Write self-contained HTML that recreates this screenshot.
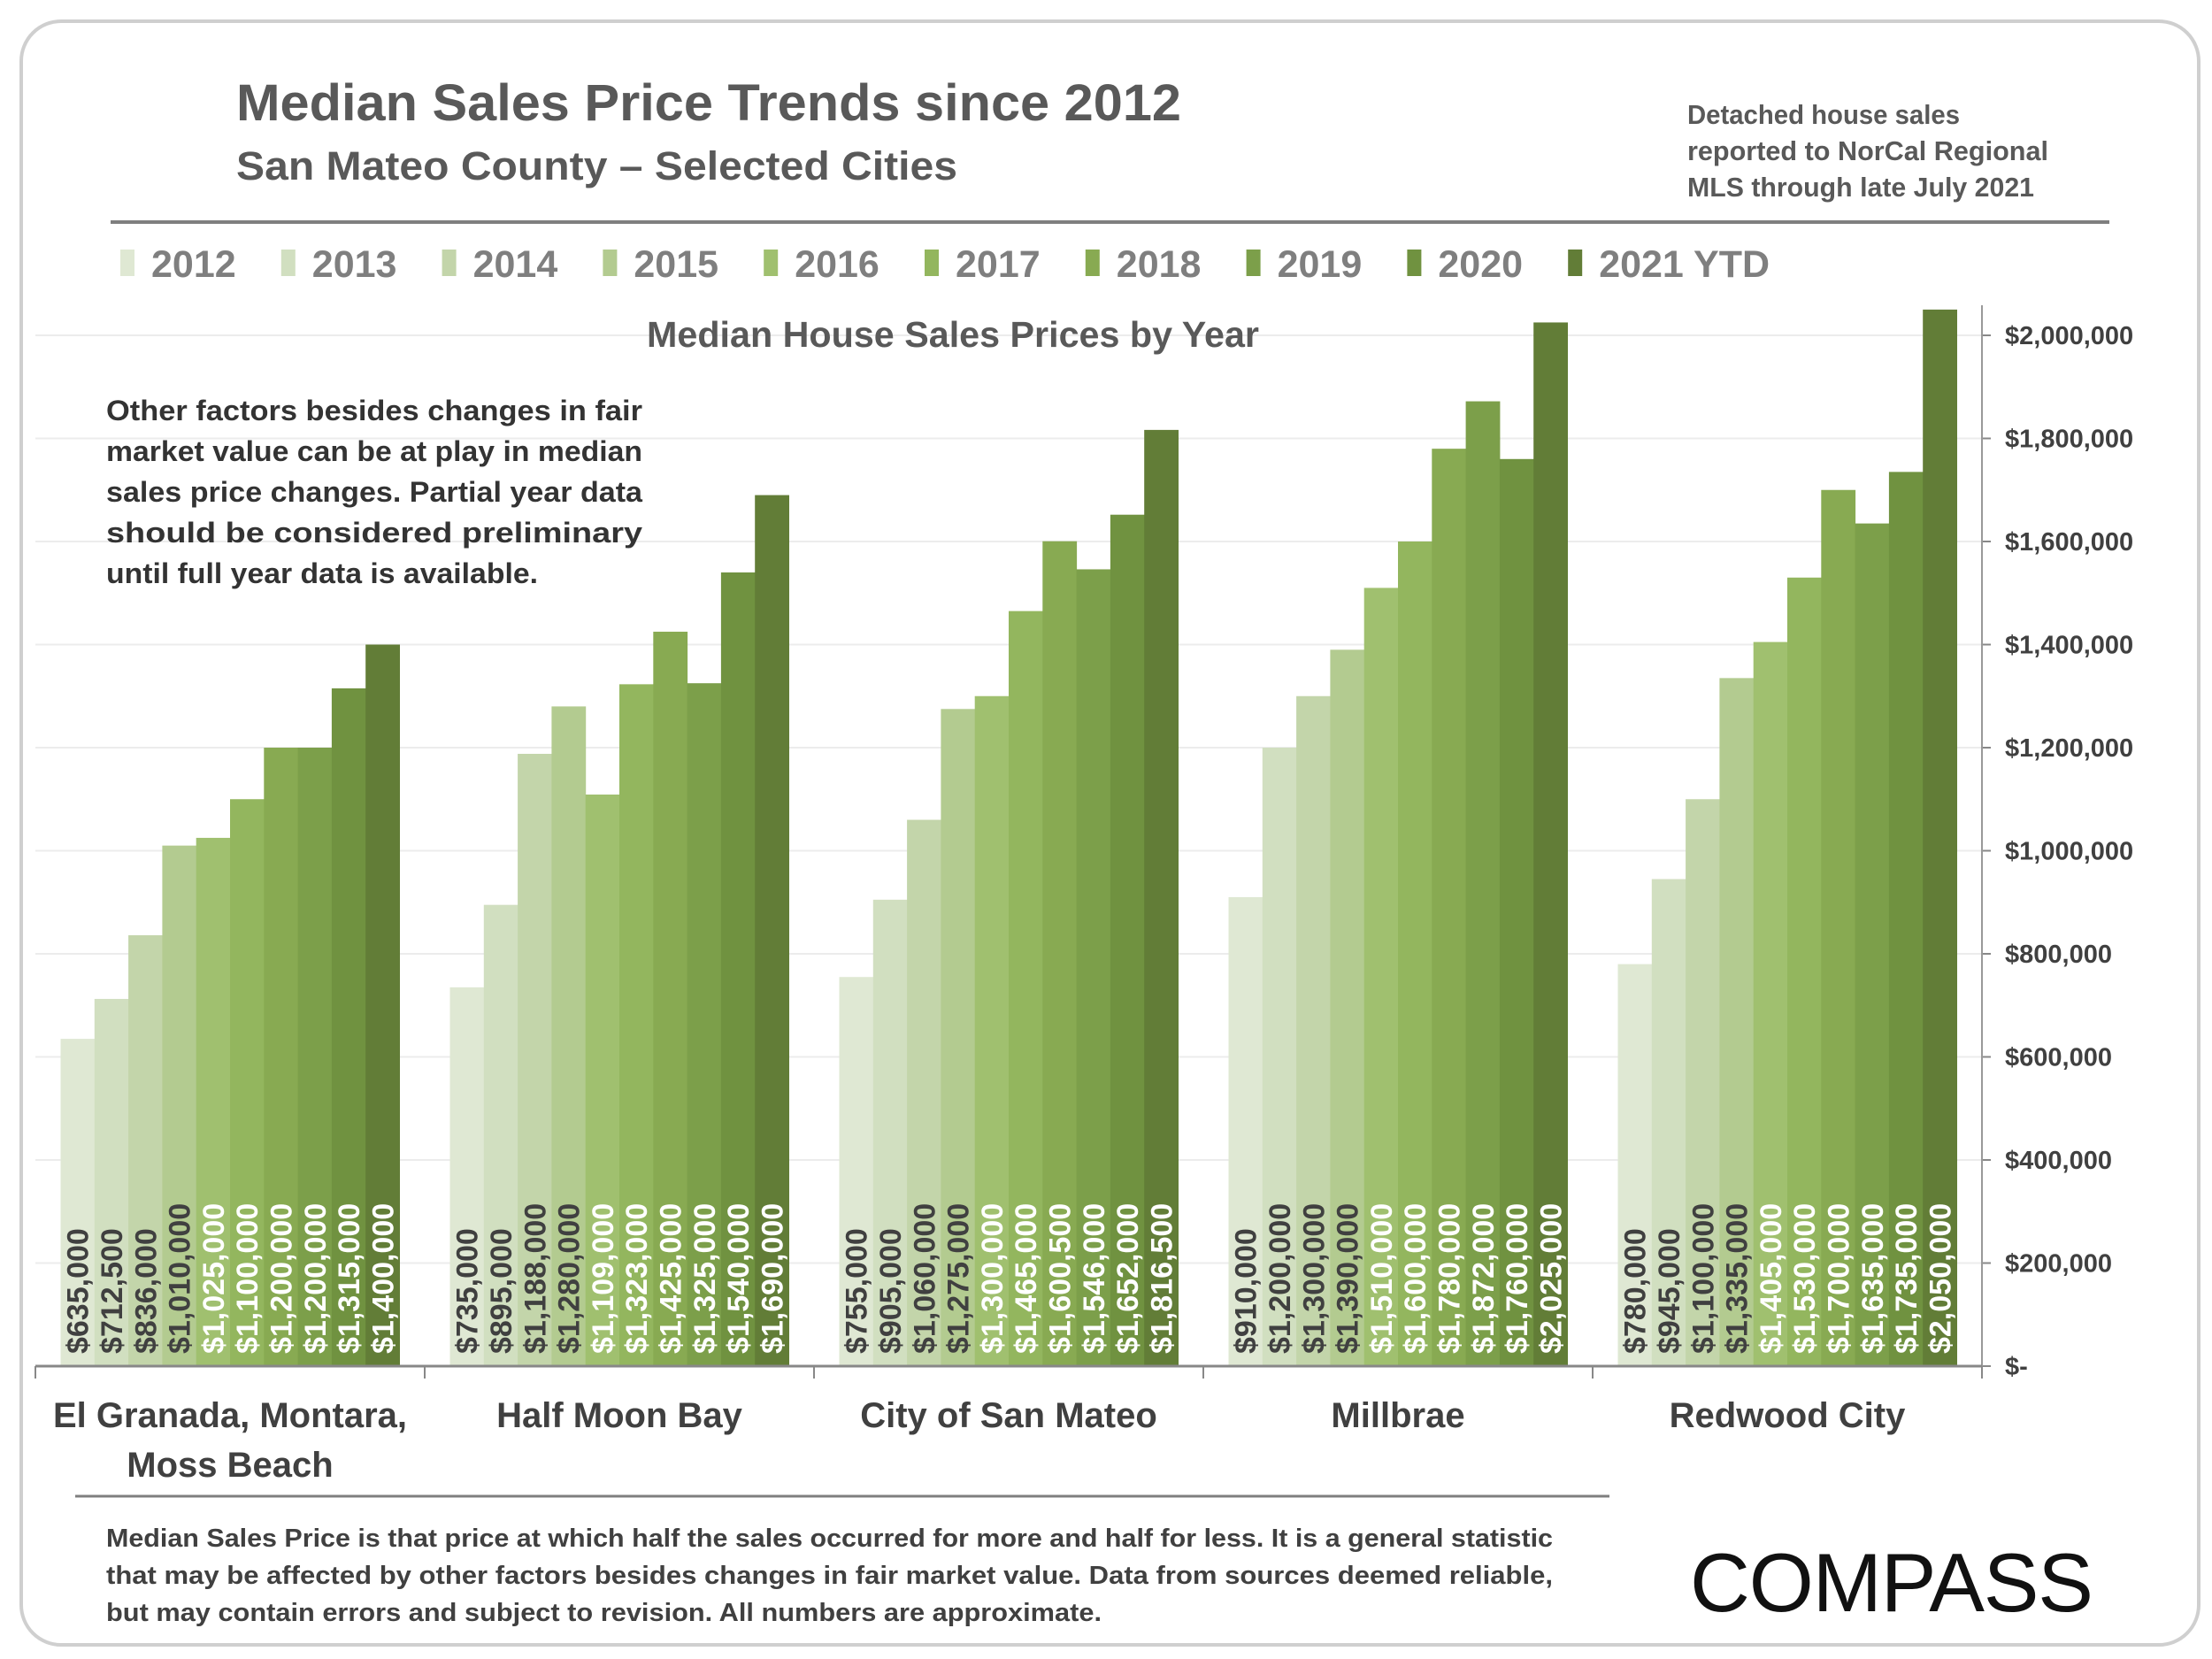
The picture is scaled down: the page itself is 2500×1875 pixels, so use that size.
<!DOCTYPE html>
<html><head><meta charset="utf-8"><style>
html,body{margin:0;padding:0;background:#fff;}
svg{display:block;font-family:"Liberation Sans",sans-serif;}
</style></head><body>
<svg id="chart" width="2500" height="1875" viewBox="0 0 2500 1875" xmlns="http://www.w3.org/2000/svg">
<rect x="24" y="24" width="2461" height="1835" rx="45" fill="#fff" stroke="#cfcfcf" stroke-width="4"/>
<text x="267" y="136" font-size="58" font-weight="bold" fill="#595959" textLength="1068" lengthAdjust="spacingAndGlyphs">Median Sales Price Trends since 2012</text>
<text x="267" y="203" font-size="45" font-weight="bold" fill="#595959" textLength="815" lengthAdjust="spacingAndGlyphs">San Mateo County – Selected Cities</text>
<g font-size="31" font-weight="bold" fill="#595959">
<text x="1907" y="140" textLength="308" lengthAdjust="spacingAndGlyphs">Detached house sales</text>
<text x="1907" y="181" textLength="408" lengthAdjust="spacingAndGlyphs">reported to NorCal Regional</text>
<text x="1907" y="222" textLength="392" lengthAdjust="spacingAndGlyphs">MLS through late July 2021</text>
</g>
<line x1="125" y1="251" x2="2384" y2="251" stroke="#7f7f7f" stroke-width="4"/>
<g id="legend"></g>
<g id="grid"></g>
<g id="bars"></g>
<g id="axis"></g>
<text x="1077" y="392" text-anchor="middle" font-size="41" font-weight="bold" fill="#595959" textLength="692" lengthAdjust="spacingAndGlyphs">Median House Sales Prices by Year</text>
<g font-size="32" font-weight="bold" fill="#333">
<text x="120" y="475" textLength="606" lengthAdjust="spacingAndGlyphs">Other factors besides changes in fair</text>
<text x="120" y="521" textLength="606" lengthAdjust="spacingAndGlyphs">market value can be at play in median</text>
<text x="120" y="567" textLength="606" lengthAdjust="spacingAndGlyphs">sales price changes. Partial year data</text>
<text x="120" y="613" textLength="606" lengthAdjust="spacingAndGlyphs">should be considered preliminary</text>
<text x="120" y="659" textLength="488" lengthAdjust="spacingAndGlyphs">until full year data is available.</text>
</g>
<line x1="85" y1="1691" x2="1819" y2="1691" stroke="#7f7f7f" stroke-width="3"/>
<g font-size="29" font-weight="bold" fill="#404040">
<text x="120" y="1748" textLength="1635" lengthAdjust="spacingAndGlyphs">Median Sales Price is that price at which half the sales occurred for more and half for less. It is a general statistic</text>
<text x="120" y="1790" textLength="1635" lengthAdjust="spacingAndGlyphs">that may be affected by other factors besides changes in fair market value. Data from sources deemed reliable,</text>
<text x="120" y="1832" textLength="1125" lengthAdjust="spacingAndGlyphs">but may contain errors and subject to revision.  All numbers are approximate.</text>
</g>
<text x="1910" y="1821" font-size="94" fill="#111" textLength="456" lengthAdjust="spacing">COMPASS</text>
</svg>
<script>
const categories = ["El Granada, Montara, Moss Beach","Half Moon Bay","City of San Mateo","Millbrae","Redwood City"];
const years = ["2012","2013","2014","2015","2016","2017","2018","2019","2020","2021 YTD"];
const elGranada = [635000,712500,836000,1010000,1025000,1100000,1200000,1200000,1315000,1400000];
const halfMoonBay = [735000,895000,1188000,1280000,1109000,1323000,1425000,1325000,1540000,1690000];
const sanMateo = [755000,905000,1060000,1275000,1300000,1465000,1600500,1546000,1652000,1816500];
const millbrae = [910000,1200000,1300000,1390000,1510000,1600000,1780000,1872000,1760000,2025000];
const redwoodCity = [780000,945000,1100000,1335000,1405000,1530000,1700000,1635000,1735000,2050000];
const yTicks = [0,200000,400000,600000,800000,1000000,1200000,1400000,1600000,1800000,2000000];
const tickLabels = ["$-","$200,000","$400,000","$600,000","$800,000","$1,000,000","$1,200,000","$1,400,000","$1,600,000","$1,800,000","$2,000,000"];
const colors = ["#dfe8d3","#d1dfc0","#c3d5aa","#b3cb90","#a0c06f","#93b65e","#88aa52","#7c9f4a","#709240","#627d37"];
const series = [elGranada,halfMoonBay,sanMateo,millbrae,redwoodCity];

const NS="http://www.w3.org/2000/svg";
const X0=40, X1=2240, Y0=1544, YTOP=379, VMAX=2000000;
const catW=(X1-X0)/categories.length, barW=38.3, groupOff=(catW-barW*years.length)/2;
const y=v=>Y0-(v/VMAX)*(Y0-YTOP);
const xBar=(c,i)=>X0+c*catW+groupOff+i*barW;
function mk(tag,attrs,parent,txt){const e=document.createElementNS(NS,tag);for(const k in attrs)e.setAttribute(k,attrs[k]);if(txt!==undefined)e.textContent=txt;parent.appendChild(e);return e;}

const grid=document.getElementById('grid'), bars=document.getElementById('bars'), axis=document.getElementById('axis'), legend=document.getElementById('legend');
yTicks.forEach((t,i)=>{
  if(t>0){const g=mk('line',{x1:X0,x2:X1,y1:y(t),y2:y(t),stroke:'#ececec','stroke-width':2},grid);
  
  }
  const tk=mk('line',{x1:X1,x2:X1+10,y1:y(t),y2:y(t),stroke:'#888','stroke-width':2},axis);
  
  
  const lb=mk('text',{x:X1+26,y:y(t)+10,'font-size':29,'font-weight':'bold',fill:'#404040'},axis,tickLabels[i]);
  
  
});
const ax=mk('line',{x1:X1,x2:X1,y1:345,y2:Y0,stroke:'#999','stroke-width':2},axis);


const xa=mk('line',{x1:X0,x2:X1,y1:Y0,y2:Y0,stroke:'#888','stroke-width':3},axis);


for(let c=0;c<=categories.length;c++){
  const t=mk('line',{x1:X0+c*catW,x2:X0+c*catW,y1:Y0,y2:Y0+14,stroke:'#888','stroke-width':2},axis);
  
  
}
series.forEach((vals,c)=>{
  vals.forEach((v,i)=>{
    const r=mk('rect',{x:xBar(c,i),y:y(v),width:barW+0.5,height:Y0-y(v),fill:colors[i]},bars);
    
    
    const cx=xBar(c,i)+barW/2+12, by=Y0-14;
    const lab='$'+v.toLocaleString('en-US');
    const t=mk('text',{x:cx,y:by,transform:'rotate(-90 '+cx+' '+by+')','font-size':34,'font-weight':'bold',fill:i<4?'#404040':'#ffffff'},bars,lab);
    
    
  });
  const cx=X0+c*catW+catW/2;
  const lines=c===0?["El Granada, Montara,","Moss Beach"]:[categories[c]];
  lines.forEach((ln,k)=>{
    const t=mk('text',{x:cx,y:1613+k*56,'text-anchor':'middle','font-size':40,'font-weight':'bold',fill:'#404040'},axis,ln);
    
    
  });
});
years.forEach((yr,i)=>{
  const lx=136+i*181.8;
  const m=mk('rect',{x:lx,y:282,width:16,height:30,fill:colors[i]},legend);
  
  
  const t=mk('text',{x:lx+35,y:313,'font-size':43,'font-weight':'bold',fill:'#7f7f7f'},legend,yr);
  
  
});
</script>
</body></html>
